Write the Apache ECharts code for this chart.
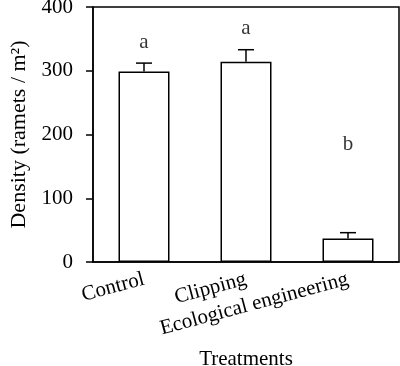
<!DOCTYPE html>
<html>
<head>
<meta charset="utf-8">
<script src="https://cdn.jsdelivr.net/npm/echarts@6/dist/echarts.min.js"></script>
<style>
  html, body { margin: 0; padding: 0; background: #fff; }
  #chart { width: 400px; height: 366px; }
</style>
</head>
<body>
<div id="chart"></div>
<script>
// values
var treatments = ['Control', 'Clipping', 'Ecological engineering'];
var density = [299, 314, 37];
var errorTop = [312, 333, 46];
var letters = ['a', 'a', 'b'];
var letterHeight = [344, 366, 185];

var font = '"Liberation Serif", "Times New Roman", serif';
var chart = echarts.init(document.getElementById('chart'));

var option = {
    animation: false,
    grid: {
        left: 93, right: 1, top: 7, bottom: 104,
        outerBoundsMode: 'none',
        show: true, borderColor: '#000', borderWidth: 1.5,
        backgroundColor: 'transparent'
    },
    xAxis: {
        type: 'category',
        data: treatments,
        name: 'Treatments',
        nameLocation: 'middle',
        nameGap: 87,
        nameTextStyle: { fontFamily: font, fontSize: 21, color: '#000' },
        axisLine: { lineStyle: { color: '#000', width: 1.5 } },
        axisTick: { alignWithLabel: true, length: 6, lineStyle: { color: '#000', width: 1.5 } },
        axisLabel: { rotate: 15, margin: 17, fontFamily: font, fontSize: 21, color: '#000', interval: 0 }
    },
    yAxis: {
        type: 'value',
        min: 0, max: 400, interval: 100,
        name: 'Density (ramets / m\u00B2)',
        nameLocation: 'middle',
        nameGap: 62,
        nameTextStyle: { fontFamily: font, fontSize: 22, color: '#000' },
        splitLine: { show: false },
        axisLine: { show: true, lineStyle: { color: '#000', width: 1.5 } },
        axisTick: { show: true, length: 7, lineStyle: { color: '#000', width: 1.5 } },
        axisLabel: { margin: 20, fontFamily: font, fontSize: 21, color: '#000' }
    },
    series: [
        {
            type: 'bar',
            data: density,
            barWidth: 51,
            itemStyle: { color: '#fff', borderColor: '#000', borderWidth: 1.5 },
            z: 2
        },
        {
            type: 'custom',
            z: 3,
            data: treatments.map(function (t, i) { return [i, density[i], errorTop[i]]; }),
            renderItem: function (params, api) {
                var base = api.coord([api.value(0), api.value(1)]);
                var top = api.coord([api.value(0), api.value(2)]);
                var half = 8;
                return {
                    type: 'group',
                    children: [
                        { type: 'line', shape: { x1: base[0], y1: base[1], x2: top[0], y2: top[1] },
                          style: { stroke: '#000', lineWidth: 1.5 } },
                        { type: 'line', shape: { x1: top[0] - half, y1: top[1], x2: top[0] + half, y2: top[1] },
                          style: { stroke: '#000', lineWidth: 1.5 } }
                    ]
                };
            }
        },
        {
            type: 'scatter',
            symbolSize: 0,
            data: letterHeight.map(function (v, i) { return [i, v]; }),
            label: {
                show: true,
                position: 'inside',
                formatter: function (p) { return letters[p.dataIndex]; },
                fontFamily: font, fontSize: 21, color: '#000'
            }
        }
    ]
};

chart.setOption(option);
</script>
</body>
</html>
